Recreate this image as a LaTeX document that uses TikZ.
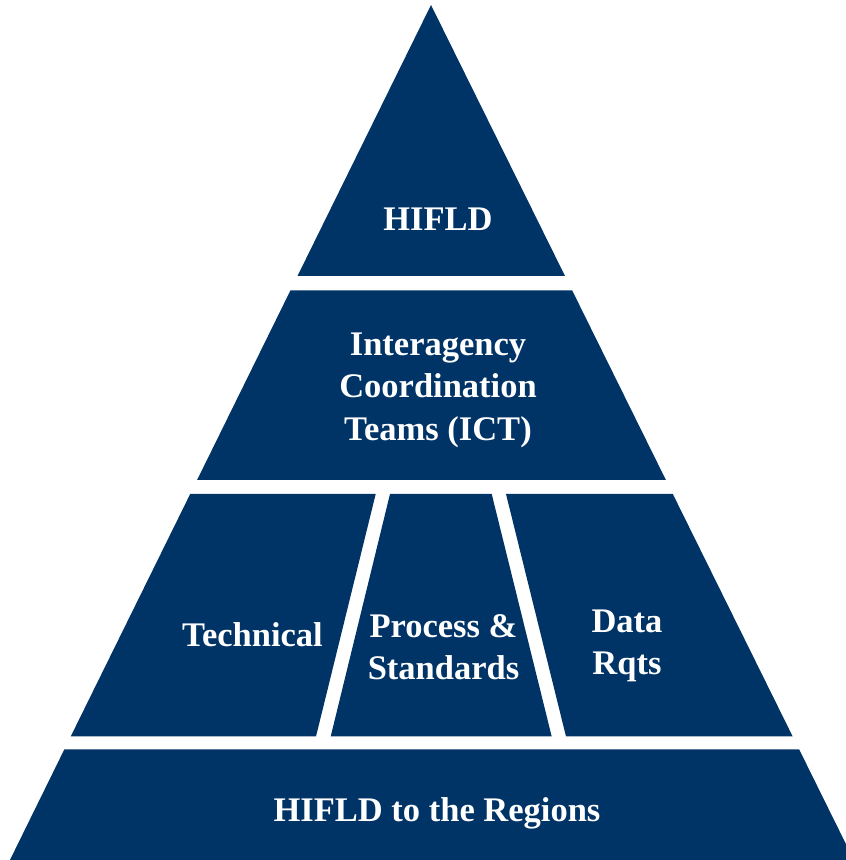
\documentclass[tikz,border=0pt]{standalone}
\usepackage{fontspec}
\setmainfont{Liberation Serif}
\usepackage{xcolor}
\usepackage{tkz-euclide}
\usetikzlibrary{positioning}
\definecolor{hifldblue}{HTML}{003366}
\tikzset{tier/.style={fill=hifldblue,draw=none},
  tierlabel/.style={text=white,font=\bfseries\fontsize{34.5}{42.5}\selectfont,
    align=center,inner sep=0pt}}
\begin{document}
\begin{tikzpicture}[x=1pt,y=1pt]
\useasboundingbox (0,0) rectangle (846,860);
\clip (0,0) rectangle (846,860);
\tkzDefPoint(431,855){A}
\tkzDefPoint(297.5,584){B}
\tkzDefPoint(565,584){C}
\tkzDefPoint(290.4,569.5){D}
\tkzDefPoint(572.2,569.5){E}
\tkzDefPoint(665.9,380){F}
\tkzDefPoint(197.1,380){G}
\tkzDefPoint(190.2,366){H}
\tkzDefPoint(375.7,366){I}
\tkzDefPoint(316,123.5){J}
\tkzDefPoint(70.7,123.5){K}
\tkzDefPoint(390,366){L}
\tkzDefPoint(491.7,366){M}
\tkzDefPoint(551.7,123.5){N}
\tkzDefPoint(330.7,123.5){O}
\tkzDefPoint(506,366){P}
\tkzDefPoint(672.8,366){Q}
\tkzDefPoint(792.7,123.5){R}
\tkzDefPoint(566,123.5){S}
\tkzDefPoint(64.3,110.5){T}
\tkzDefPoint(799.2,110.5){U}
\tkzDefPoint(856.3,-5){V}
\tkzDefPoint(7.5,-5){W}
\tkzFillPolygon[tier](A,B,C)
\tkzFillPolygon[tier](D,E,F,G)
\tkzFillPolygon[tier](H,I,J,K)
\tkzFillPolygon[tier](L,M,N,O)
\tkzFillPolygon[tier](P,Q,R,S)
\tkzFillPolygon[tier](T,U,V,W)
\node[tierlabel,anchor=base] (hifld) at (438,629) {HIFLD};
\node[tierlabel] (ict) at (438,470) {Interagency\\Coordination\\Teams (ICT)};
\node[tierlabel,anchor=base] (technical) at (252.5,213.3) {Technical};
\node[tierlabel] (process) at (443.5,213) {Process \&\\Standards};
\node[tierlabel] (data) at (627,214) {Data\\Rqts};
\node[tierlabel,anchor=base] (regions) at (437,38.3) {HIFLD to the Regions};
\end{tikzpicture}
\end{document}
